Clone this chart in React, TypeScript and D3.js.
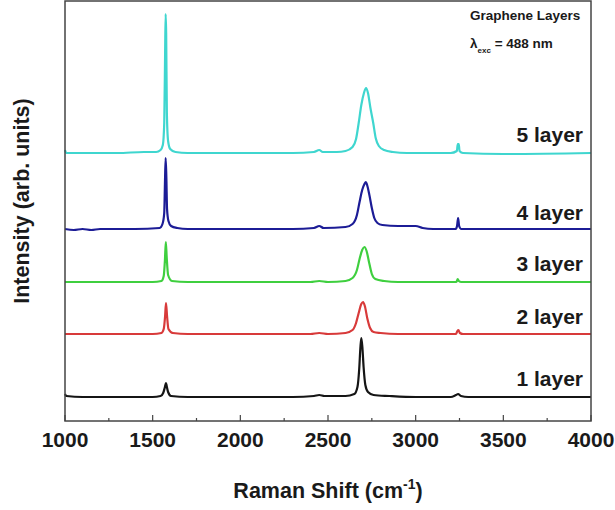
import React from "react";
import * as d3 from "d3";

// ---- data (Raman shift cm^-1, intensity above each trace's baseline, arb. units) ----
const layerNames = ["1 layer", "2 layer", "3 layer", "4 layer", "5 layer"];
const layerColors = ["#151515", "#d83a3a", "#3fcf3f", "#1c1c96", "#3fd6cf"];
const layerOffsets = [24, 87, 139, 192, 268];

const layer1: [number, number][] = [
  [1000, 3], [1008, 1], [1100, 0], [1300, 0], [1500, 0], [1545, 1], [1560, 4], [1570, 10], [1576, 14], [1580, 11],
  [1588, 5], [1605, 1], [1700, 0], [2000, 0], [2300, 0], [2420, 1], [2450, 2], [2480, 1], [2600, 1],
  [2650, 3], [2668, 10], [2678, 28], [2685, 50], [2690, 59], [2696, 50], [2703, 30], [2713, 12],
  [2728, 5], [2760, 2], [2850, 1], [3000, 0], [3100, 0], [3200, 0], [3230, 2], [3242, 3], [3258, 1],
  [3300, 0], [3450, 0], [4000, 0],
];
const layer2: [number, number][] = [
  [1000, 0], [1300, 0], [1500, 0], [1550, 1], [1563, 5], [1571, 18], [1576, 31], [1582, 18], [1590, 5],
  [1615, 1], [1700, 0], [2400, 0], [2450, 1], [2500, 0], [2600, 1], [2640, 4], [2660, 11], [2675, 21],
  [2690, 30], [2700, 32], [2710, 28], [2725, 15], [2740, 6], [2760, 2], [2800, 1], [2900, 0], [3230, 0],
  [3238, 3], [3244, 4], [3252, 1], [3270, 0], [4000, 0],
];
const layer3: [number, number][] = [
  [1000, 0], [1300, 0], [1500, 0], [1550, 1], [1563, 6], [1570, 22], [1575, 40], [1580, 25], [1588, 7],
  [1610, 1], [1700, 0], [2400, 0], [2450, 1], [2500, 0], [2600, 1], [2640, 4], [2665, 12], [2680, 23],
  [2695, 32], [2708, 35], [2720, 31], [2735, 19], [2750, 8], [2770, 3], [2820, 1], [2900, 0], [3232, 0],
  [3240, 3], [3246, 1], [3260, 0], [4000, 0],
];
const layer4: [number, number][] = [
  [1000, 0], [1050, -1], [1100, 0], [1150, -1], [1200, 0], [1400, 0], [1540, 1], [1556, 5], [1566, 16],
  [1570, 45], [1574, 71], [1578, 52], [1582, 20], [1590, 8], [1605, 3], [1640, 1], [1700, 0], [2300, 0],
  [2420, 1], [2450, 3], [2475, 1], [2600, 2], [2640, 5], [2665, 14], [2680, 27], [2695, 39], [2708, 45],
  [2716, 47], [2723, 44], [2736, 34], [2750, 21], [2764, 11], [2782, 6], [2810, 4], [2900, 3], [3000, 3],
  [3040, 1], [3100, 0], [3228, 0], [3236, 3], [3242, 11], [3248, 3], [3260, 0], [4000, 0],
];
const layer5: [number, number][] = [
  [1000, 3], [1008, 0], [1100, 0], [1300, 0], [1450, 1], [1520, 1], [1545, 3], [1558, 8], [1566, 30],
  [1571, 100], [1574, 139], [1577, 120], [1581, 40], [1588, 12], [1600, 4], [1630, 1], [1700, 0],
  [2000, 0], [2300, 0], [2420, 1], [2450, 3], [2470, 1], [2550, 1], [2600, 2], [2640, 6], [2660, 14],
  [2675, 30], [2690, 48], [2705, 60], [2717, 65], [2728, 60], [2742, 45], [2758, 30], [2772, 15],
  [2790, 7], [2820, 3], [2870, 1], [2950, 0], [3200, 0], [3235, 2], [3240, 9], [3246, 9], [3250, 2],
  [3270, 0], [3500, -1], [4000, 0],
];
const layerData = [layer1, layer2, layer3, layer4, layer5];

const xTicks = [1000, 1500, 2000, 2500, 3000, 3500, 4000];
const xMinorTicks = [1250, 1750, 2250, 2750, 3250, 3750];
const xDomain: [number, number] = [1000, 4000];
const yDomain: [number, number] = [0, 420];

const FONT = "'Liberation Sans', Arial, Helvetica, sans-serif";

export default function App() {
  const W = 615;
  const H = 510;
  const left = 65;
  const right = 591;
  const top = 1;
  const bottom = 421;

  const x = d3.scaleLinear().domain(xDomain).range([left, right]);
  const y = d3.scaleLinear().domain(yDomain).range([bottom, top]);

  const labelBaselines = [386, 324, 271, 220, 142];

  return (
    <svg
      width={W}
      height={H}
      style={{ position: "absolute", left: 0, top: 0, background: "#fff" }}
      fontFamily={FONT}
    >
      <rect x={0} y={0} width={W} height={H} fill="#fff" />
      {/* traces */}
      {layerData.map((pts, i) => {
        const line = d3
          .line<[number, number]>()
          .x((d) => x(d[0]))
          .y((d) => y(d[1] + layerOffsets[i]))
          .curve(d3.curveMonotoneX);
        return (
          <path
            key={i}
            d={line(pts) || ""}
            fill="none"
            stroke={layerColors[i]}
            strokeWidth={2.2}
            strokeLinejoin="round"
          />
        );
      })}
      {/* frame */}
      <rect
        x={left}
        y={top}
        width={right - left}
        height={bottom - top}
        fill="none"
        stroke="#444"
        strokeWidth={1.5}
      />
      {/* ticks */}
      {xTicks.map((t) => (
        <line key={"M" + t} x1={x(t)} x2={x(t)} y1={bottom} y2={bottom - 6} stroke="#444" strokeWidth={1.2} />
      ))}
      {xMinorTicks.map((t) => (
        <line key={"m" + t} x1={x(t)} x2={x(t)} y1={bottom} y2={bottom - 3} stroke="#444" strokeWidth={1.2} />
      ))}
      {xTicks.map((t) => (
        <text
          key={"L" + t}
          x={x(t)}
          y={447}
          textAnchor="middle"
          fontSize={21}
          fontWeight="bold"
          fill="#1a1a1a"
        >
          {t}
        </text>
      ))}
      {/* axis titles */}
      <text x={328} y={498} textAnchor="middle" fontSize={21.5} fontWeight="bold" fill="#1a1a1a">
        Raman Shift (cm
        <tspan fontSize={14} dy={-9}>-1</tspan>
        <tspan dy={9}>)</tspan>
      </text>
      <text
        transform="translate(29,201) rotate(-90)"
        textAnchor="middle"
        fontSize={21.5}
        fontWeight="bold"
        fill="#1a1a1a"
      >
        Intensity (arb. units)
      </text>
      {/* layer labels */}
      {layerNames.map((n, i) => (
        <text
          key={n}
          x={583}
          y={labelBaselines[i]}
          textAnchor="end"
          fontSize={21}
          fontWeight="bold"
          fill="#1a1a1a"
        >
          {n}
        </text>
      ))}
      {/* annotation */}
      <text x={470} y={20} fontSize={13.5} fontWeight="bold" fill="#1a1a1a">
        Graphene Layers
      </text>
      <text x={470} y={48} fontSize={13.5} fontWeight="bold" fill="#1a1a1a">
        λ
        <tspan fontSize={8} dy={5}>exc</tspan>
        <tspan dy={-5}> = 488 nm</tspan>
      </text>
    </svg>
  );
}
